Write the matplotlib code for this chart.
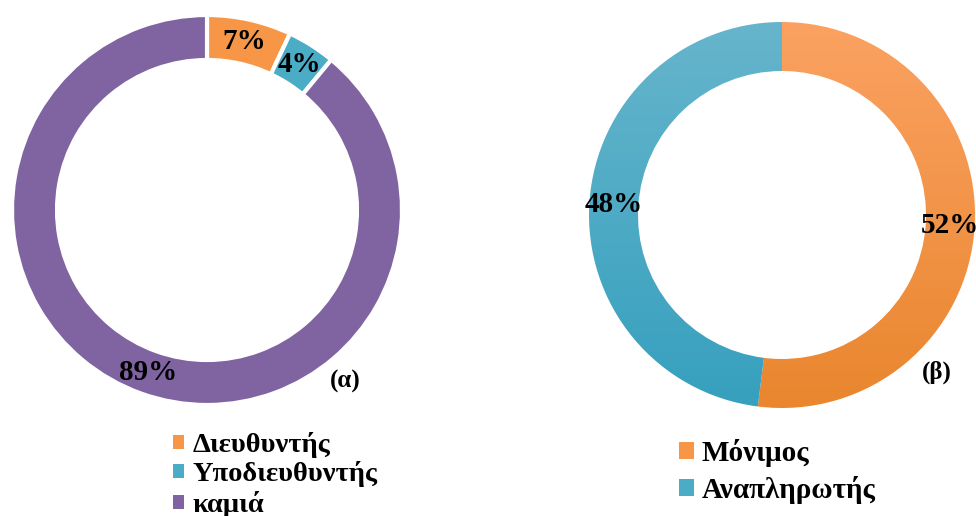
import matplotlib
matplotlib.use('Agg')
import matplotlib.pyplot as plt
import numpy as np
from matplotlib.colors import LinearSegmentedColormap
from matplotlib.patches import Patch

# (α) position held
roles = ['Διευθυντής', 'Υποδιευθυντής', 'καμιά']
role_pct = [7, 4, 89]
role_colors = ['#F79646', '#4BACC6', '#8064A2']

# (β) employment status
status = ['Μόνιμος', 'Αναπληρωτής']
status_pct = [52, 48]
status_top = ['#FBA262', '#66B5CC']
status_bottom = ['#E9862E', '#36A0BE']
status_mid = ['#F79646', '#4BACC6']

W, H = 976, 516

plt.rcParams['font.family'] = ['Liberation Serif', 'DejaVu Serif']
plt.rcParams['font.weight'] = 'bold'


def py(y):
    # pixel row (from top) -> data y (from bottom)
    return H - y


fig = plt.figure(figsize=(W / 100, H / 100), dpi=100)
ax = fig.add_axes([0, 0, 1, 1])

wl, _, al = ax.pie(role_pct, colors=role_colors, startangle=90, counterclock=False,
                   center=(207, py(210)), radius=195, autopct='%.0f%%', pctdistance=0.885,
                   wedgeprops=dict(width=45, edgecolor='white', linewidth=3),
                   textprops=dict(fontsize=21, fontweight='bold', color='black'))

cx, cy, r = 782, py(215), 193
wr, _, ar = ax.pie(status_pct, colors=status_mid, startangle=90, counterclock=False,
                   center=(cx, cy), radius=r, autopct='%.0f%%', pctdistance=0.873,
                   wedgeprops=dict(width=49, linewidth=0),
                   textprops=dict(fontsize=21, fontweight='bold', color='black'))

# vertical gradient fill for the right donut
grad = np.linspace(0, 1, 256).reshape(-1, 1)
for w, c0, c1 in zip(wr, status_top, status_bottom):
    cmap = LinearSegmentedColormap.from_list('g', [c1, c0])
    im = ax.imshow(grad, cmap=cmap, origin='lower', aspect='auto', interpolation='bilinear',
                   extent=[cx - r, cx + r, cy - r, cy + r], zorder=w.get_zorder())
    im.set_clip_path(w)
    w.set_facecolor('none')

ax.text(345, py(381), '(α)', fontsize=18, ha='center', va='center')
ax.text(937, py(372), '(β)', fontsize=18, ha='center', va='center')

leg1 = ax.legend([Patch(facecolor=c) for c in role_colors], roles,
                 loc='upper left', bbox_to_anchor=(173, py(432)), bbox_transform=ax.transData,
                 frameon=False, fontsize=20.5, handlelength=0.37, handleheight=0.37,
                 handletextpad=0.32, labelspacing=0.12, borderpad=0, borderaxespad=0)
ax.add_artist(leg1)
ax.legend([Patch(facecolor=c) for c in status_mid], status,
          loc='upper left', bbox_to_anchor=(679, py(439)), bbox_transform=ax.transData,
          frameon=False, fontsize=21, handlelength=0.52, handleheight=0.52,
          handletextpad=0.25, labelspacing=0.32, borderpad=0, borderaxespad=0)

ax.set_xlim(0, W)
ax.set_ylim(0, H)
ax.axis('off')

fig.savefig('out.png', dpi=100)
